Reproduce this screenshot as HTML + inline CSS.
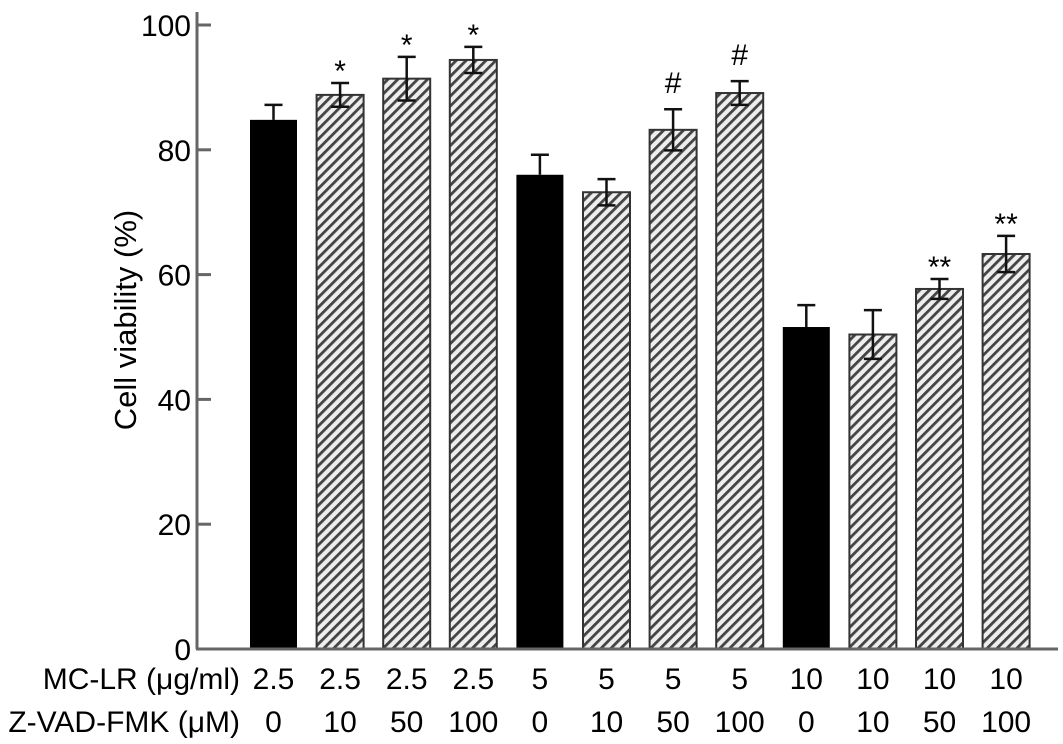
<!DOCTYPE html>
<html><head><meta charset="utf-8"><style>
html,body{margin:0;padding:0;background:#fff;}
svg{display:block;font-family:"Liberation Sans",Arial,sans-serif;}
</style></head><body>
<svg id="chart" width="1063" height="744" viewBox="0 0 1063 744" xmlns="http://www.w3.org/2000/svg">
<defs>
<pattern id="hatch" patternUnits="userSpaceOnUse" width="7" height="7" patternTransform="rotate(45)">
<rect width="7" height="7" fill="#eee"/>
<rect x="0" y="0" width="2.8" height="7" fill="#444"/>
</pattern>
</defs>
<g id="bars"></g>
<g id="axes"></g>
<text transform="translate(136,320) rotate(-90)" text-anchor="middle" font-size="31" fill="#000">Cell viability (%)</text>
<text x="240" y="689" text-anchor="end" font-size="30" fill="#000">MC-LR (μg/ml)</text>
<text x="240" y="732" text-anchor="end" font-size="30" fill="#000">Z-VAD-FMK (μM)</text>
</svg>
<script>
const mcLR = ["2.5","2.5","2.5","2.5","5","5","5","5","10","10","10","10"];
const zvad = ["0","10","50","100","0","10","50","100","0","10","50","100"];
const values = [84.8,88.8,91.4,94.4,76,73.2,83.2,89.1,51.6,50.4,57.7,63.3];
const errors = [2.4,1.9,3.5,2.1,3.2,2.1,3.3,1.9,3.5,3.9,1.6,2.9];
const marks = ["","*","*","*","","","#","#","","","**","**"];
const yTicks = [0,20,40,60,80,100];

const NS="http://www.w3.org/2000/svg";
const y0=649, pxPer=6.24;
function yScale(v){return y0 - v*pxPer;}
function xCenter(i){return 273.5 + i*66.6;}
const barW=47;
function mk(tag,attrs,parent){const e=document.createElementNS(NS,tag);for(const k in attrs)e.setAttribute(k,attrs[k]);parent.appendChild(e);return e;}
const gb=document.getElementById('bars'), ga=document.getElementById('axes');

values.forEach((v,i)=>{
  const cx=xCenter(i), top=yScale(v), solid=(zvad[i]==="0");
  const r=mk('rect',{x:cx-barW/2,y:top,width:barW,height:y0-top,fill:solid?'#000':'url(#hatch)',stroke:solid?'#000':'#333','stroke-width':solid?0:2},gb);
  
  
  const eTop=yScale(v+errors[i]), eBot=yScale(v-errors[i]);
  const ew=mk('path',{d:`M${cx} ${eTop}V${solid?top:eBot}M${cx-9} ${eTop}H${cx+9}`+(solid?'':`M${cx-9} ${eBot}H${cx+9}`),stroke:'#111','stroke-width':2.5,fill:'none'},gb);
  
  
  if(marks[i]){
    const isStar=marks[i].indexOf('*')>=0;
    const t=mk('text',{x:cx,y:eTop-(isStar?2:16),'text-anchor':'middle','font-size':isStar?30:30,fill:'#000'},gb);
    t.textContent=marks[i];
    
    
  }
  const t1=mk('text',{x:cx,y:689,'text-anchor':'middle','font-size':30,fill:'#000'},ga);
  t1.textContent=mcLR[i];
  
  
  const t2=mk('text',{x:cx,y:732,'text-anchor':'middle','font-size':30,fill:'#000'},ga);
  t2.textContent=zvad[i];
  
  
});
const ya=mk('line',{x1:197,y1:12,x2:197,y2:y0,stroke:'#666','stroke-width':3},ga);


const xa=mk('line',{x1:196,y1:y0,x2:1058,y2:y0,stroke:'#666','stroke-width':3},ga);


yTicks.forEach(v=>{
  const y=yScale(v);
  if(v>0){const tk=mk('line',{x1:197,y1:y,x2:211,y2:y,stroke:'#666','stroke-width':3},ga);
  
  }
  const t=mk('text',{x:191,y:y+11,'text-anchor':'end','font-size':30,fill:'#000'},ga);
  t.textContent=v;
  
  
});
</script>
</body></html>
